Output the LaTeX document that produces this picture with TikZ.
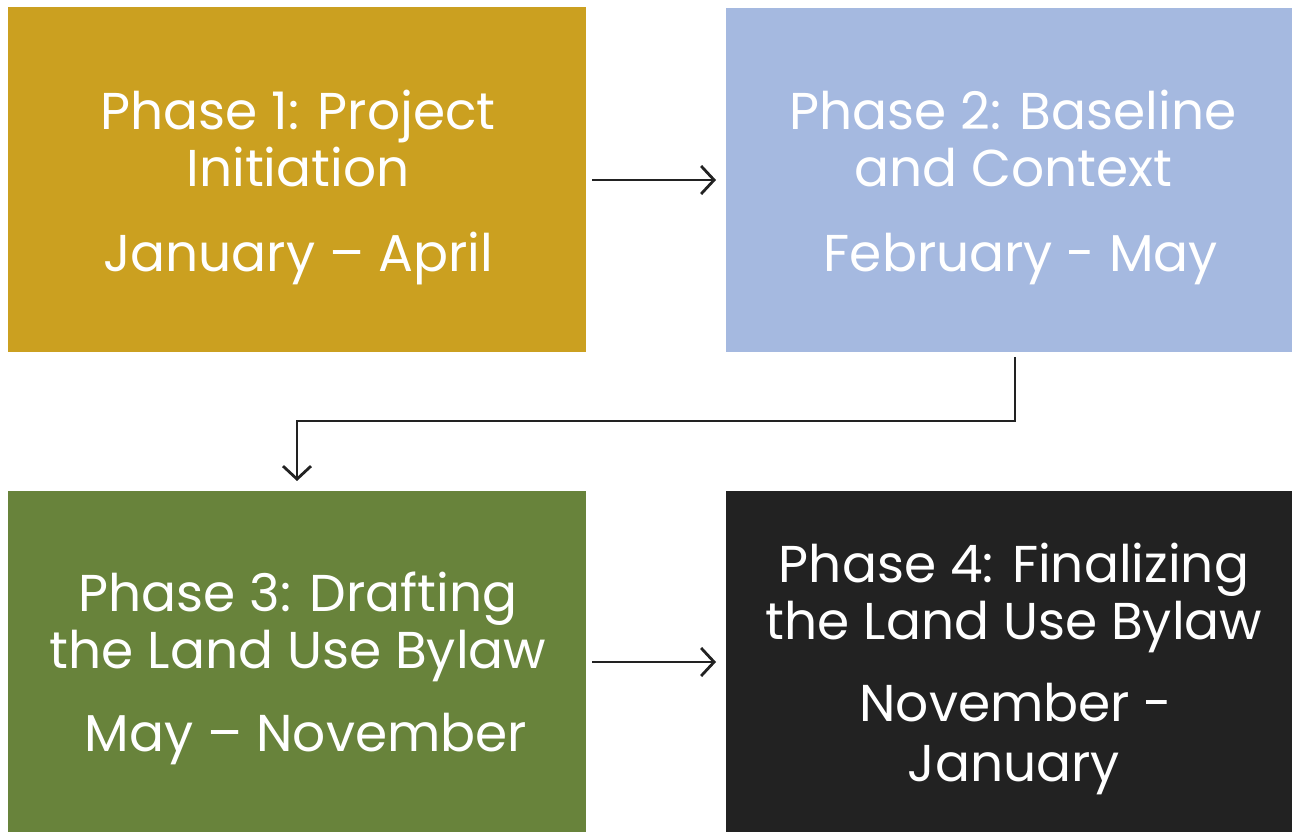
\documentclass[tikz,border=0pt]{standalone}
\usepackage{fontspec}
\setmainfont{Poppins}
\usetikzlibrary{arrows.meta}
\definecolor{gold}{HTML}{CBA020}
\definecolor{skyb}{HTML}{A5B9E0}
\definecolor{olive}{HTML}{68833B}
\definecolor{charc}{HTML}{222222}
\definecolor{arr}{HTML}{222222}
\begin{document}
\begin{tikzpicture}[x=1bp,y=1bp,
  box/.style={draw=none,inner sep=0pt,outer sep=0pt},
  lbl/.style={text=white,anchor=base,font=\fontsize{52}{57}\selectfont,inner sep=0pt},
  conn/.style={draw=arr,line width=2.8bp,-{Straight Barb[length=13bp,width=28bp,line width=2.8bp]}}]
\useasboundingbox (0,0) rectangle (1292,832);
% boxes (y = 832 - pixel y)
\fill[gold]  (8,480) rectangle (586,825);
\fill[skyb]  (726,480) rectangle (1292,824);
\fill[olive] (8,0) rectangle (586,341);
\fill[charc] (726,0) rectangle (1292,341);
\node[box] (b1) at (297,652.5) {};
\node[box] (b2) at (1009,652) {};
\node[box] (b3) at (297,170.5) {};
\node[box] (b4) at (1009,170.5) {};
% texts
\node[lbl] (t1a) at (298,702) {Phase 1: Project};
\node[lbl] (t1b) at (298,645) {Initiation};
\node[lbl] (t1c) at (298,560) {January – April};
\node[lbl] (t2a) at (1013,702) {Phase 2: Baseline};
\node[lbl] (t2b) at (1013,645) {and Context};
\node[lbl] (t2c) at (1021,560) {February - May};
\node[lbl] (t3a) at (298,220) {Phase 3: Drafting};
\node[lbl] (t3b) at (298,163) {the Land Use Bylaw};
\node[lbl] (t3c) at (306,80) {May – November};
\node[lbl] (t4a) at (1014,249) {Phase 4: Finalizing};
\node[lbl] (t4b) at (1014,192) {the Land Use Bylaw};
\node[lbl] (t4c) at (1016,110) {November -};
\node[lbl] (t4d) at (1014,50) {January};
% connectors
\coordinate (a1s) at (592,652);
\coordinate (a1e) at (716,652);
\draw[conn] (a1s) -- (a1e);
\coordinate (a2s) at (1015,475);
\coordinate (a2m) at (1015,411);
\coordinate (a2n) at (297,411);
\coordinate (a2e) at (297,351);
\draw[conn] (a2s) -- (a2m) -- (a2n) -- (a2e);
\coordinate (a3s) at (592,170);
\coordinate (a3e) at (716,170);
\draw[conn] (a3s) -- (a3e);
\end{tikzpicture}
\end{document}
